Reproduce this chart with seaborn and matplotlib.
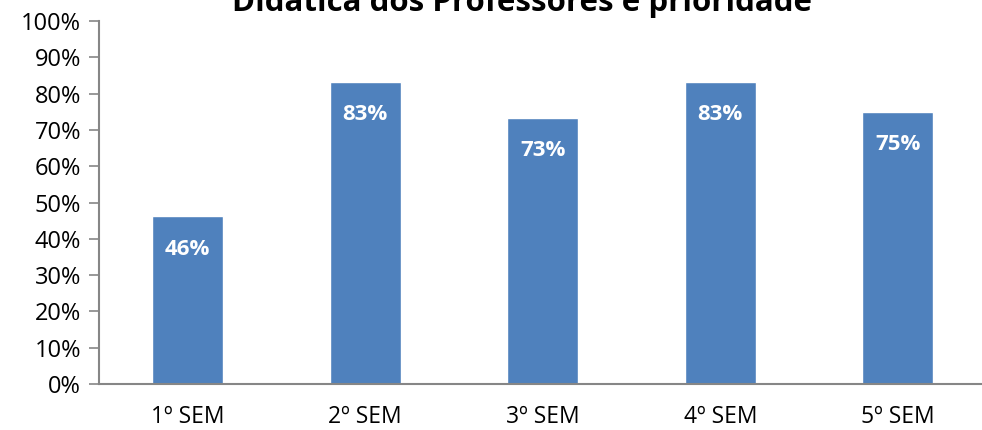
import pandas as pd
import seaborn as sns
import matplotlib.pyplot as plt
from matplotlib.ticker import PercentFormatter, FixedLocator

semestres = ["1º SEM", "2º SEM", "3º SEM", "4º SEM", "5º SEM"]
percentuais = [46.15, 83.33, 73.33, 83.33, 75.0]
titulo = "Didática dos Professores é prioridade"

df = pd.DataFrame({"semestre": semestres, "pct": percentuais})

sns.set_style("white")
plt.rcParams['font.family'] = ['Open Sans', 'DejaVu Sans']
plt.rcParams['text.color'] = 'black'
plt.rcParams['xtick.color'] = 'black'
plt.rcParams['ytick.color'] = 'black'

fig = plt.figure(figsize=(9.82, 4.30), dpi=100)
W, H = 982, 430
ax = fig.add_axes([99 / W, 46 / H, (986.5 - 99) / W, (384 - 21) / H])

sns.barplot(data=df, x="semestre", y="pct", color="#4F81BD", width=0.4,
            saturation=1, ax=ax)

for i, v in enumerate(df["pct"]):
    ax.annotate(f"{v:.0f}%", (i, v), xytext=(0, -33), textcoords="offset pixels",
                ha="center", va="center", color="white", fontsize=16,
                fontweight="bold")

ax.set_ylim(0, 100)
ax.set_xlim(-0.5, len(semestres) - 0.5)
ax.set_yticks(range(0, 101, 10))
ax.yaxis.set_major_formatter(PercentFormatter(decimals=0))
ax.xaxis.set_minor_locator(FixedLocator([i + 0.5 for i in range(-1, len(semestres))]))
ax.tick_params(axis="x", which="major", length=0, pad=15, labelsize=16.5)
ax.tick_params(axis="x", which="minor", length=7, direction="out", color="#868686", width=1.2)
ax.tick_params(axis="y", length=7, direction="out", color="#868686", width=1.2,
               labelsize=17, pad=6, left=True, labelcolor="black")
ax.tick_params(axis="x", labelcolor="black")
ax.set_xlabel("")
ax.set_ylabel("")
for s in ["top", "right"]:
    ax.spines[s].set_visible(False)
for s in ["left", "bottom"]:
    ax.spines[s].set_color("#868686")
    ax.spines[s].set_linewidth(1.5)

fig.text(522 / W, 1 - 11 / H, titulo, ha="center", va="baseline",
         fontsize=22.5, fontweight="bold", color="black")

fig.savefig("out.png", dpi=100)
